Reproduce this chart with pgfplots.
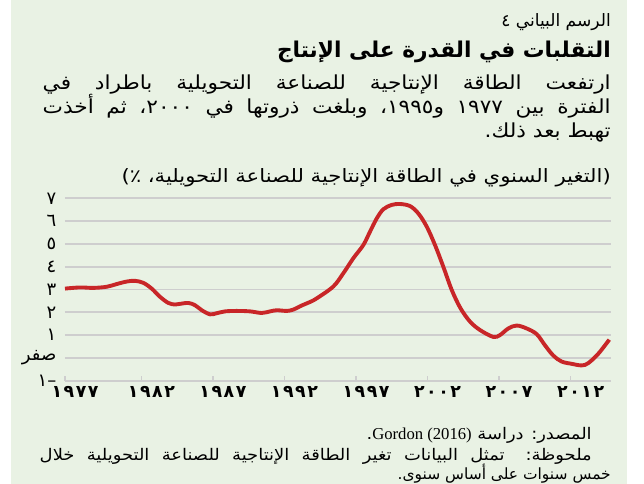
\documentclass[border=0pt]{standalone}
\usepackage{pgfplots}
\pgfplotsset{compat=1.18}
\usepackage{fontspec}
\TeXXeTstate=1
\newfontfamily\ar[Script=Arabic]{DejaVu Sans}
\newfontfamily\arw[Script=Arabic,FakeStretch=1.12]{DejaVu Sans}
\newfontfamily\arww[Script=Arabic,FakeStretch=1.15]{DejaVu Sans}
\newfontfamily\arb[Script=Arabic]{DejaVu Sans Bold}
\newfontfamily\arbt[Script=Arabic,LetterSpace=9]{DejaVu Sans Bold}
\newfontfamily\lat{Liberation Serif}
\definecolor{bg}{RGB}{233,242,228}
\definecolor{gridc}{RGB}{206,206,206}
\definecolor{linec}{RGB}{200,38,40}
\pgfplotstableread{
year val
1976.66 3.04
1977.71 3.09
1978.64 3.07
1979.58 3.12
1980.28 3.24
1980.98 3.35
1981.56 3.38
1982.14 3.29
1982.72 3.04
1983.30 2.68
1983.88 2.41
1984.35 2.34
1984.70 2.37
1985.28 2.41
1985.75 2.31
1986.22 2.09
1986.80 1.91
1987.27 1.96
1987.85 2.04
1988.66 2.06
1989.59 2.04
1990.41 1.97
1990.99 2.04
1991.46 2.09
1992.16 2.06
1992.62 2.12
1993.21 2.30
1993.74 2.44
1994.25 2.61
1995.41 3.13
1996.11 3.71
1996.81 4.37
1997.51 4.95
1997.98 5.54
1998.45 6.12
1998.91 6.52
1999.49 6.71
2000.07 6.75
2000.77 6.66
2001.35 6.34
2001.94 5.76
2002.52 4.95
2003.10 4.00
2003.69 2.98
2004.30 2.18
2004.97 1.59
2005.67 1.22
2006.59 0.92
2007.06 1.00
2007.64 1.29
2008.23 1.42
2008.93 1.29
2009.63 1.04
2010.21 0.55
2010.79 0.10
2011.37 -0.16
2012.07 -0.26
2012.77 -0.33
2013.23 -0.23
2013.93 0.18
2014.70 0.80
}\datatable
\begin{document}
\begin{tikzpicture}[x=0.75pt,y=0.75pt]
\useasboundingbox (0,0) rectangle (644,484);
\fill[white] (0,0) rectangle (644,484);
\fill[bg] (11,0) rectangle (627,484);
\begin{axis}[
  at={(48.75pt,77.475pt)}, anchor=south west,
  scale only axis, width=409.5pt, height=136.8pt,
  xmin=1976.66, xmax=2014.82, ymin=-1, ymax=7,
  axis line style={draw=none},
  ytick={-1,0,...,7},
  yticklabels={{\ar –١},{\ar صفر},{\ar ١},{\ar ٢},{\ar ٣},{\ar ٤},{\ar ٥},{\ar ٦},{\ar ٧}},
  ymajorgrids, grid style={draw=gridc, line width=1.3pt},
  ytick style={draw=none},
  xtick={1976.66,1982,1987,1992,1997,2002,2007,2012},
  xticklabels={{\arbt ١٩٧٧},{\arbt ١٩٨٢},{\arbt ١٩٨٧},{\arbt ١٩٩٢},{\arbt ١٩٩٧},{\arbt ٢٠٠٢},{\arbt ٢٠٠٧},{\arbt ٢٠١٢}},
  xtick pos=bottom, tick align=inside, major tick length=3.5pt,
  xtick style={draw=gridc, line width=1pt},
  xticklabel style={font=\fontsize{13}{15}\selectfont, anchor=north, xshift=7.5pt, yshift=-0.5pt},
  yticklabel style={font=\fontsize{13.5}{15}\selectfont, anchor=east, xshift=-3pt},
  clip=false,
]
\addplot[linec, line width=2.9pt, smooth, tension=0.55] table[x=year,y=val] {\datatable};
\end{axis}
\node[anchor=base east, inner sep=0] at (611,457) {\fontsize{12.8}{14}\ar\beginR الرسم البياني ٤\endR};
\node[anchor=base east, inner sep=0] at (611,426) {\fontsize{16.3}{20}\arb\beginR التقلبات في القدرة على الإنتاج\endR};
\node[anchor=base east, inner sep=0] at (611,394) {\fontsize{14.5}{16}\arw\makebox[426pt][s]{\beginR ارتفعت الطاقة الإنتاجية للصناعة التحويلية باطراد في\endR}};
\node[anchor=base east, inner sep=0] at (611,370) {\fontsize{14.5}{16}\arw\makebox[426pt][s]{\beginR الفترة بين ١٩٧٧ و١٩٩٥، وبلغت ذروتها في ٢٠٠٠، ثم أخذت\endR}};
\node[anchor=base east, inner sep=0] at (611,346) {\fontsize{14.5}{16}\arw\beginR تهبط بعد ذلك.\endR};
\node[anchor=base east, inner sep=0] at (611,301) {\fontsize{13.8}{16}\arww\beginR (التغير السنوي في الطاقة الإنتاجية للصناعة التحويلية، ٪)\endR};
\node[anchor=base east, inner sep=0] at (592,44) {\fontsize{12}{14}\arw\beginR المصدر: دراسة \beginL{\fontsize{12.5}{14}\lat Gordon (2016)}\endL.\endR};
\node[anchor=base east, inner sep=0] at (592,23) {\fontsize{12}{14}\arw\makebox[414pt][s]{\beginR ملحوظة: تمثل البيانات تغير الطاقة الإنتاجية للصناعة التحويلية خلال\endR}};
\node[anchor=base east, inner sep=0] at (611,4) {\fontsize{11.6}{14}\ar\beginR خمس سنوات على أساس سنوى.\endR};
\end{tikzpicture}
\end{document}
